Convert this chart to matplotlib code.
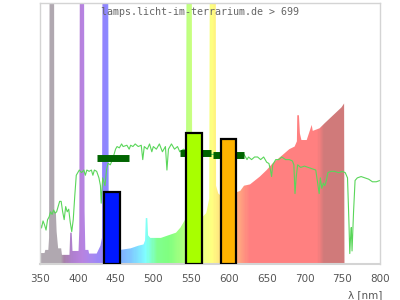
import numpy as np
import matplotlib
matplotlib.use('Agg')
import matplotlib.pyplot as plt
from matplotlib.colors import LinearSegmentedColormap
from matplotlib.patches import Polygon

# lamp spectrum (relative), peaks above 1 get clipped at the top
spec_wl = [350, 356, 357, 361, 362, 363, 368.5, 369, 371, 372, 374, 378, 379, 389, 390, 392, 393,
           401, 402, 403, 408, 409, 410, 414, 415, 425, 430, 432, 433, 440, 441, 456, 470, 480,
           487, 489, 490, 492, 493, 496, 500, 510, 520, 530, 536, 540, 543, 544.5, 550.7, 551.5,
           565, 570, 574, 575, 582.5, 583, 586, 590, 600, 610, 615, 620, 628, 641, 650, 658, 670,
           680, 687, 690, 690.5, 692.7, 694, 696, 703, 707, 709.6, 711, 720, 727, 738, 749, 752.5, 753]
spec_val = [0.042, 0.042, 0.054, 0.054, 0.10, 1.5, 1.5, 0.20, 0.20, 0.124, 0.06, 0.06, 0.035, 0.035,
            0.12, 0.12, 0.05, 0.05, 0.13, 1.5, 1.5, 0.20, 0.054, 0.054, 0.04, 0.04, 0.07, 0.10, 1.5,
            1.5, 0.10, 0.054, 0.06, 0.07, 0.075, 0.09, 0.176, 0.176, 0.11, 0.10, 0.10, 0.10, 0.11,
            0.12, 0.14, 0.16, 0.175, 1.5, 1.5, 0.18, 0.18, 0.195, 0.25, 1.5, 1.5, 0.30, 0.27, 0.26,
            0.26, 0.275, 0.28, 0.30, 0.305, 0.335, 0.36, 0.386, 0.415, 0.44, 0.45, 0.47, 0.57, 0.57,
            0.50, 0.475, 0.475, 0.51, 0.533, 0.51, 0.52, 0.54, 0.57, 0.60, 0.615, 0.0]

# transmission curve (green line)
trans_wl = [350, 352, 354, 356, 358, 360, 362, 364, 366, 368, 370, 372, 374, 376, 378, 380, 382, 384,
            386, 388, 390, 392, 394, 396, 398, 400, 402, 405, 408, 410, 412, 415, 418, 420, 422, 425,
            428, 430, 431, 433, 436, 438, 440, 443, 446, 450, 452, 455, 458, 460, 465, 468, 470, 473,
            476, 480, 484, 486, 488, 492, 495, 498, 500, 504, 508, 512, 516, 518, 520, 524, 528, 532,
            535, 540, 545, 550, 556, 560, 565, 570, 575, 580, 585, 590, 600, 610, 615, 618, 620, 624,
            626, 630, 634, 638, 642, 646, 650, 653, 655, 656.5, 658, 662, 666, 670, 675, 680, 684,
            686, 687.5, 689, 691, 695, 700, 705, 710, 715, 718, 719.5, 721, 723, 725, 727, 729, 731,
            735, 740, 745, 750, 754, 757, 759, 760, 761, 762, 763, 765, 767, 770, 775, 780, 785, 790,
            795, 800]
trans_val = [0.157, 0.138, 0.165, 0.15, 0.13, 0.17, 0.18, 0.20, 0.19, 0.207, 0.195, 0.20, 0.22, 0.24,
             0.24, 0.20, 0.17, 0.22, 0.20, 0.21, 0.16, 0.124, 0.17, 0.26, 0.34, 0.35, 0.36, 0.35,
             0.36, 0.34, 0.36, 0.355, 0.36, 0.34, 0.36, 0.355, 0.33, 0.30, 0.233, 0.33, 0.30, 0.36,
             0.386, 0.38, 0.40, 0.44, 0.45, 0.445, 0.46, 0.45, 0.455, 0.44, 0.455, 0.45, 0.46, 0.45,
             0.455, 0.40, 0.45, 0.44, 0.46, 0.43, 0.45, 0.44, 0.46, 0.43, 0.45, 0.36, 0.44, 0.46,
             0.44, 0.45, 0.43, 0.44, 0.43, 0.43, 0.42, 0.43, 0.42, 0.43, 0.42, 0.42, 0.41, 0.42,
             0.42, 0.42, 0.418, 0.405, 0.42, 0.40, 0.41, 0.40, 0.41, 0.41, 0.40, 0.41, 0.39, 0.385,
             0.36, 0.335, 0.38, 0.40, 0.40, 0.41, 0.40, 0.40, 0.395, 0.38, 0.27, 0.33, 0.38, 0.37,
             0.375, 0.37, 0.365, 0.36, 0.30, 0.27, 0.33, 0.29, 0.31, 0.30, 0.32, 0.35, 0.355, 0.355,
             0.35, 0.355, 0.35, 0.33, 0.15, 0.04, 0.10, 0.14, 0.05, 0.20, 0.32, 0.33, 0.335, 0.33,
             0.325, 0.315, 0.315, 0.32]

# colour bands (blue / green / orange)
band_center = [445, 554, 600]
band_width = [21, 21, 20]
band_height = [0.276, 0.502, 0.48]
band_color = ['#0018ff', '#a8ff00', '#ffb300']

# dark green level markers
mark_lo = [425.4, 535, 579]
mark_hi = [467.4, 576, 619.6]
mark_val = [0.405, 0.427, 0.418]

xticks = [350, 400, 450, 500, 550, 600, 650, 700, 750, 800]

# wavelength -> colour stops for the spectrum fill
stops = [(350, '#b0a8b0'), (376, '#b0a8b0'), (381, '#a882a8'), (392, '#b080d0'), (405, '#b883e0'),
         (418, '#a888f0'), (436, '#8f85ff'), (456, '#80b0ff'), (470, '#80c8ff'), (490, '#80ffff'),
         (505, '#80ff90'), (520, '#80ff80'), (538, '#a8ff80'), (546, '#c0ff80'), (562, '#e8ff88'),
         (578, '#ffff80'), (590, '#ffe080'), (610, '#ffb080'), (628, '#ff8080'), (718, '#ff8080'),
         (727, '#d07a7a'), (755, '#d07a7a')]
lo, hi = stops[0][0], stops[-1][0]
cmap = LinearSegmentedColormap.from_list('spec', [((w - lo) / (hi - lo), c) for w, c in stops])

fig = plt.figure(figsize=(4, 3), dpi=100)
ax = fig.add_axes([0.1, 0.12, 0.85, 0.87])

grad = np.linspace(0, 1, 800).reshape(1, -1)
im = ax.imshow(grad, cmap=cmap, extent=[lo, hi, 0, 1.6], aspect='auto', origin='lower',
               interpolation='nearest', zorder=1)
verts = np.column_stack([spec_wl + [spec_wl[-1], spec_wl[0]], spec_val + [0, 0]])
poly = Polygon(verts, closed=True, facecolor='none', edgecolor='none')
ax.add_patch(poly)
im.set_clip_path(poly)

ax.plot(trans_wl, trans_val, color='#5ad65a', lw=0.8, zorder=2)
ax.hlines(mark_val, mark_lo, mark_hi, color='#006400', lw=5, zorder=3)
ax.bar(band_center, band_height, width=band_width, color=band_color, edgecolor='black',
       linewidth=1.6, zorder=4)

ax.text(0.47, 0.965, 'lamps.licht-im-terrarium.de > 699', transform=ax.transAxes,
        ha='center', va='center', family='DejaVu Sans Mono', fontsize=7.2, color='#666666',
        zorder=10)

ax.set_xlim(350, 800)
ax.set_ylim(0, 1)
ax.set_xticks(xticks)
ax.set_yticks([])
ax.tick_params(axis='x', length=0, pad=7, labelsize=7.5, labelcolor='#555555')
for s in ax.spines.values():
    s.set_color('#d4d4d4')
    s.set_linewidth(1)
ax.spines['bottom'].set_linewidth(1.5)

fig.text(0.955, 0.017, 'λ [nm]', ha='right', va='center', fontsize=7.5, color='#555555')

fig.savefig('out.png', dpi=100)
